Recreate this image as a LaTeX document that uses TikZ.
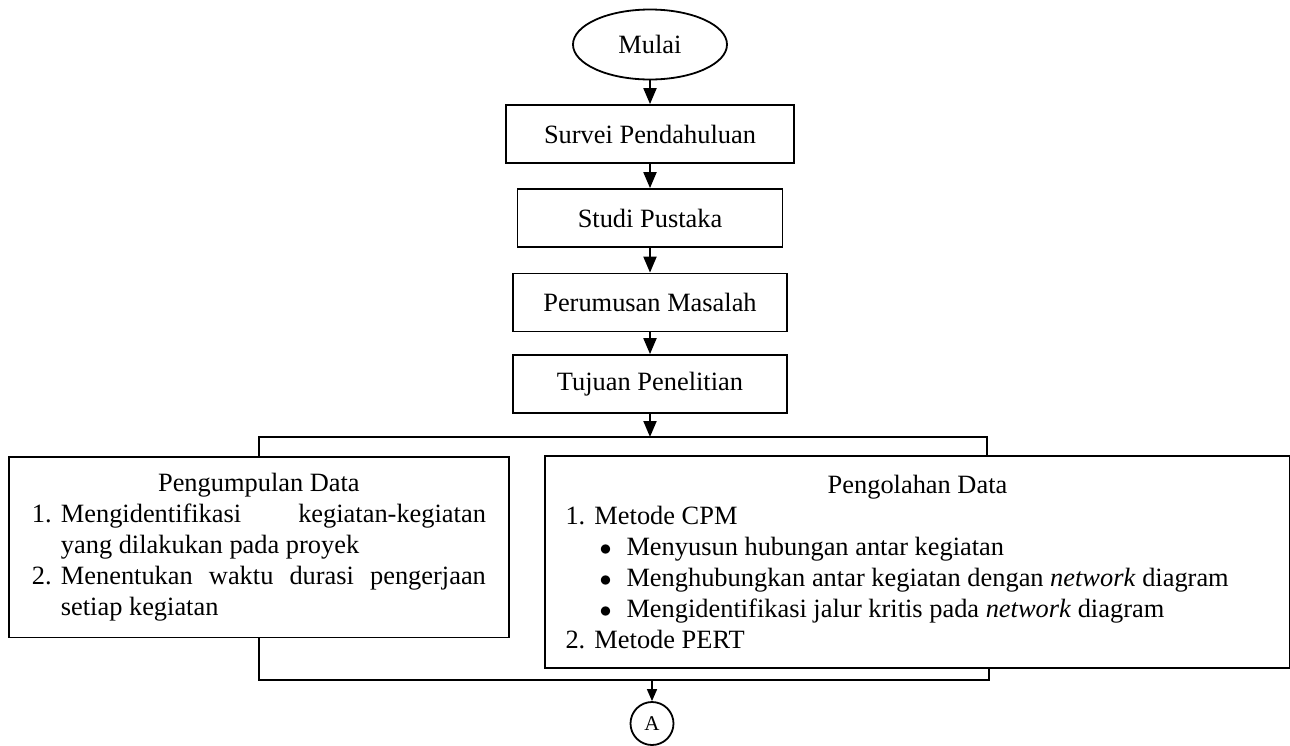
\documentclass[tikz,border=0pt]{standalone}
\usepackage{fontspec}
\setmainfont{Liberation Serif}
\usepackage{tikz}
\usetikzlibrary{arrows.meta,positioning,shapes.geometric}
\newcommand{\numitem}[2]{\par\noindent\hangindent=14.5pt\hangafter=1\makebox[14.5pt][l]{#1}#2\par}
\newcommand{\dotitem}[1]{\par\noindent\hangindent=30.5pt\hangafter=1\hspace*{17pt}\makebox[13.5pt][l]{$\bullet$}#1\par}

\begin{document}
\begin{tikzpicture}[
  x=0.5pt, y=-0.5pt,
  every node/.style={font=\fontsize{13.2pt}{15.5pt}\selectfont},
  terminal/.style={draw, ellipse, line width=0.9pt, minimum width=77pt,
                   minimum height=35pt, inner sep=0pt},
  process/.style={draw, line width=0.9pt, minimum height=29pt, inner sep=0pt},
  bigbox/.style={draw, line width=0.9pt, anchor=north west, align=justify,
                 inner ysep=8pt},
  connector/.style={draw, circle, line width=0.9pt, minimum size=21.5pt,
                    inner sep=0pt, font=\fontsize{10.5pt}{12pt}\selectfont},
  joinline/.style={line width=0.8pt},
  flowarrow/.style={line width=1pt, -{Triangle[length=8pt,width=6.5pt]}},
  >=Stealth]
  \useasboundingbox (0,0) rectangle (1290,745);
  \node[terminal] (mulai) at (650,44.5) {Mulai};
  \node[process, minimum width=144pt] (survei) at (650,134) {Survei Pendahuluan};
  \node[process, minimum width=132.5pt] (studi) at (650,218) {Studi Pustaka};
  \node[process, minimum width=137pt] (perumusan) at (650,302.5) {Perumusan Masalah};
  \node[process, minimum width=137pt] (tujuan) at (650,384) {Tujuan Penelitian};
  \node[bigbox, inner xsep=11.5pt, text width=227pt, minimum height=90.3pt]
    (pengumpulan) at (8,456) {%
    \centerline{Pengumpulan Data}%
    \numitem{1.}{Mengidentifikasi \mbox{kegiatan-kegiatan}\linebreak yang dilakukan pada proyek}%
    \numitem{2.}{Menentukan waktu durasi pengerjaan\linebreak setiap kegiatan}};
  \node[bigbox, inner xsep=10.3pt, text width=352pt, minimum height=106pt]
    (pengolahan) at (544,455) {%
    \centerline{Pengolahan Data}%
    \numitem{1.}{Metode CPM}%
    \dotitem{Menyusun hubungan antar kegiatan}%
    \dotitem{Menghubungkan antar kegiatan dengan \textit{network} diagram}%
    \dotitem{Mengidentifikasi jalur kritis pada \textit{network} diagram}%
    \numitem{2.}{Metode PERT}};
  \node[connector] (A) at (652,723.5) {A};
  \coordinate (split) at (650,437);
  \coordinate (topR) at (987,437);
  \coordinate (join) at (652,680);
  \coordinate (botR) at (989,680);
  \draw[flowarrow] (mulai) -- (survei);
  \draw[flowarrow] (survei) -- (studi);
  \draw[flowarrow] (studi) -- (perumusan);
  \draw[flowarrow] (perumusan) -- (tujuan);
  \draw[flowarrow] (tujuan) -- (split);
  \draw[joinline] (pengumpulan.north) |- (topR) -- (topR |- pengolahan.north);
  \draw[joinline] (pengumpulan.south) |- (botR) -- (botR |- pengolahan.south);
  \draw[line width=0.8pt, -{Triangle[length=6pt,width=5pt]}] (join) -- (A);
\end{tikzpicture}
\end{document}
